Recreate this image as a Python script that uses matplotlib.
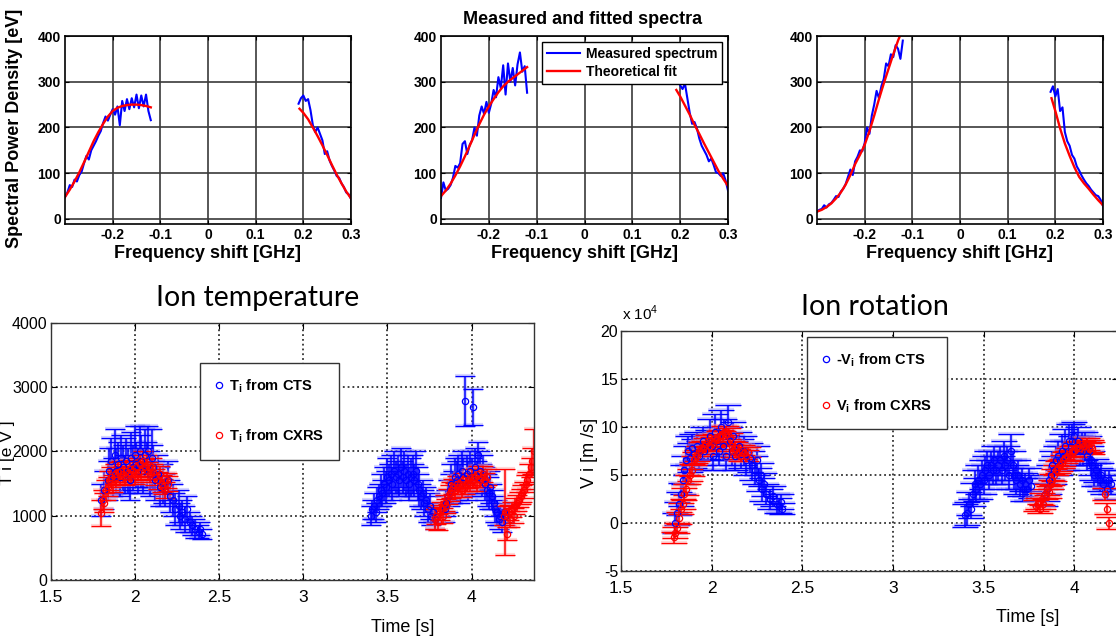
import matplotlib
matplotlib.use("Agg")
import matplotlib.pyplot as plt
from matplotlib.lines import Line2D

W, H = 1116, 641

BOLD = ["Liberation Sans", "DejaVu Sans"]
NARROW = ["Liberation Sans Narrow", "Liberation Sans", "DejaVu Sans"]
TITLE = ["Lato", "DejaVu Sans"]

# ---------------- spectra (top row) ----------------
# frequency bins of the measured spectrum [GHz]
meas_left_x = [-0.300, -0.295, -0.290, -0.285, -0.280, -0.275, -0.270, -0.265, -0.260, -0.255,
               -0.250, -0.245, -0.240, -0.235, -0.230, -0.225, -0.220, -0.215, -0.210, -0.205,
               -0.200, -0.195, -0.190, -0.185, -0.180, -0.175, -0.170, -0.165, -0.160, -0.155,
               -0.150, -0.145, -0.140, -0.135, -0.130, -0.125, -0.120]
meas_right_x = [0.190, 0.195, 0.200, 0.205, 0.210, 0.215, 0.220, 0.225, 0.230, 0.235, 0.240, 0.245,
                0.250, 0.255, 0.260, 0.265, 0.270, 0.275, 0.280, 0.285, 0.290, 0.295, 0.300]
fit_left_x = [-0.30, -0.29, -0.28, -0.27, -0.26, -0.25, -0.24, -0.23, -0.22, -0.21,
              -0.20, -0.19, -0.18, -0.17, -0.16, -0.15, -0.14, -0.13, -0.12]
fit_right_x = [0.192, 0.20, 0.21, 0.22, 0.23, 0.24, 0.25, 0.26, 0.27, 0.28, 0.29, 0.30]

meas1_left = [48, 58, 74, 70, 86, 82, 96, 104, 122, 138, 130, 150, 160, 170, 182, 192, 210, 224, 215, 228,
              240, 228, 246, 205, 258, 236, 262, 240, 264, 244, 272, 242, 270, 246, 272, 236, 216]
meas1_right = [252, 264, 270, 258, 262, 238, 205, 190, 200, 186, 172, 142, 148, 128, 116, 106, 94, 90,
               78, 70, 58, 54, 44]
fit1_left = [48, 64, 82, 102, 124, 147, 170, 190, 208, 224, 236, 243, 247, 249, 250, 250, 249, 247, 244]
fit1_right = [241, 232, 218, 200, 181, 161, 140, 118, 97, 78, 60, 45]

meas2_left = [46, 80, 62, 66, 74, 90, 116, 112, 122, 164, 170, 142, 162, 172, 200, 182, 226, 246, 230, 256,
              232, 252, 282, 266, 310, 286, 336, 272, 340, 300, 330, 292, 338, 364, 322, 334, 276]
meas2_right = [300, 306, 292, 284, 296, 264, 232, 208, 212, 198, 176, 160, 150, 140, 126, 132, 118, 102,
               100, 94, 100, 84, 62]
fit2_left = [50, 62, 77, 95, 115, 137, 160, 184, 207, 228, 246, 262, 277, 290, 300, 308, 316, 324, 332]
fit2_right = [282, 268, 248, 228, 206, 186, 165, 145, 125, 105, 88, 72]

meas3_left = [16, 20, 22, 30, 25, 32, 35, 42, 50, 48, 60, 66, 76, 92, 108, 96, 126, 136, 150, 148,
              166, 200, 186, 226, 250, 280, 264, 290, 306, 340, 334, 360, 354, 380, 372, 350, 390]
meas3_right = [278, 290, 268, 284, 236, 244, 190, 170, 160, 140, 132, 115, 106, 95, 86, 78, 72, 64,
               58, 52, 50, 42, 28]
fit3_left = [16, 20, 26, 34, 45, 58, 75, 96, 120, 140, 162, 192, 226, 262, 296, 328, 360, 390, 415]
fit3_right = [264, 236, 198, 165, 138, 113, 92, 78, 66, 53, 41, 30]

freq_ticks = [-0.2, -0.1, 0, 0.1, 0.2, 0.3]
freq_labels = ["-0.2", "-0.1", "0", "0.1", "0.2", "0.3"]
spd_ticks = [0, 100, 200, 300, 400]

# ---------------- ion temperature (bottom left) [eV] ----------------
ti_cts_t = [1.80, 1.82, 1.84, 1.85, 1.86, 1.87, 1.88, 1.89, 1.90, 1.91, 1.92, 1.93, 1.94, 1.95, 1.96,
            1.97, 1.98, 1.99, 2.00, 2.01, 2.02, 2.03, 2.04, 2.05, 2.06, 2.07, 2.08, 2.09, 2.10, 2.11,
            2.12, 2.14, 2.15, 2.17, 2.18, 2.20, 2.21, 2.23, 2.24, 2.26, 2.27, 2.28, 2.30, 2.31, 2.33,
            2.34, 2.36, 2.38, 2.39, 2.40,
            3.40, 3.41, 3.42, 3.43, 3.44, 3.45, 3.46, 3.47, 3.48, 3.49, 3.50, 3.51, 3.52, 3.53, 3.54,
            3.55, 3.56, 3.57, 3.58, 3.59, 3.60, 3.61, 3.62, 3.63, 3.64, 3.65, 3.66, 3.67, 3.68, 3.69,
            3.70, 3.71, 3.72, 3.73, 3.74, 3.75, 3.76, 3.77, 3.78,
            3.84, 3.85, 3.86, 3.87, 3.88, 3.89, 3.90, 3.91, 3.92, 3.93, 3.94, 3.95, 3.96, 3.97, 3.98,
            3.99, 4.00, 4.01, 4.02, 4.03, 4.04, 4.05, 4.06, 4.07, 4.08, 4.09, 4.10, 4.11, 4.12, 4.13,
            4.14, 4.15, 4.16, 4.17, 4.18, 4.19, 4.20]
ti_cts = [1250, 1400, 1550, 1700, 1850, 1600, 1950, 1700, 1800, 1600, 1900, 1750, 1650, 1850, 1700,
          1550, 1900, 1750, 1950, 1800, 1700, 2000, 1850, 1700, 1950, 1800, 2000, 1650, 1900, 1750,
          1550, 1650, 1450, 1500, 1400, 1550, 1300, 1250, 1100, 1150, 1000, 1050, 950, 1100, 900,
          850, 800, 750, 800, 720,
          1000, 1100, 1150, 1050, 1250, 1300, 1400, 1350, 1500, 1450, 1600, 1550, 1650, 1500, 1700,
          1600, 1650, 1550, 1750, 1600, 1700, 1550, 1650, 1500, 1600, 1650, 1550, 1700, 1500, 1400,
          1300, 1350, 1200, 1250, 1100, 1150, 1000, 1050, 950,
          1100, 1200, 1300, 1400, 1500, 1450, 1600, 1550, 1650, 1500, 1700, 1600, 2780, 1650, 1550,
          1700, 1600, 2690, 1750, 1600, 1950, 1700, 1550, 1650, 1500, 1400, 1350, 1450, 1300, 1200,
          1100, 1050, 950, 1000, 900, 1050, 1000]
ti_cts_err = [250, 300, 300, 350, 350, 300, 400, 350, 350, 300, 350, 350, 300, 350, 350,
              300, 400, 350, 450, 350, 350, 400, 400, 350, 400, 350, 400, 350, 450, 350,
              300, 300, 300, 300, 250, 300, 250, 250, 250, 250, 200, 200, 200, 200, 150,
              150, 150, 100, 100, 80,
              150, 150, 200, 150, 200, 200, 250, 200, 250, 250, 300, 250, 300, 250, 300,
              250, 300, 250, 300, 250, 300, 250, 300, 250, 300, 300, 250, 300, 250, 250,
              200, 200, 200, 200, 200, 200, 150, 150, 150,
              200, 200, 250, 250, 300, 250, 300, 300, 300, 300, 300, 300, 385, 300, 300,
              300, 300, 280, 300, 250, 200, 300, 250, 300, 250, 250, 250, 250, 200, 200,
              200, 200, 150, 150, 150, 150, 150]

ti_cxrs_t = [1.80, 1.81, 1.82, 1.83, 1.84, 1.85, 1.86, 1.87, 1.88, 1.89, 1.90, 1.91, 1.92, 1.93,
             1.94, 1.95, 1.96, 1.97, 1.98, 1.99, 2.00, 2.01, 2.02, 2.03, 2.04, 2.05, 2.06, 2.07,
             2.08, 2.09, 2.10, 2.11, 2.12, 2.14, 2.15, 2.16, 2.17, 2.18, 2.19, 2.20,
             3.78, 3.79, 3.80, 3.81, 3.82, 3.83, 3.84, 3.85, 3.86, 3.87, 3.88, 3.89, 3.90, 3.91,
             3.92, 3.93, 3.94, 3.95, 3.96, 3.97, 3.98, 3.99, 4.00, 4.01, 4.02, 4.03, 4.04, 4.05,
             4.06, 4.07, 4.08, 4.09, 4.19, 4.20, 4.21, 4.22, 4.23, 4.24, 4.25, 4.26, 4.27, 4.28,
             4.29, 4.30, 4.31, 4.32, 4.33, 4.34, 4.35, 4.36, 4.37]
ti_cxrs = [1040, 1250, 1200, 1400, 1450, 1550, 1600, 1500, 1650, 1600, 1680, 1620, 1700, 1650,
           1600, 1700, 1650, 1720, 1650, 1700, 1620, 1750, 1680, 1800, 1700, 1850, 1750, 1800,
           1700, 1650, 1750, 1680, 1600, 1550, 1650, 1500, 1450, 1400, 1550, 1500,
           950, 1000, 900, 1050, 1100, 1000, 1200, 1150, 1300, 1350, 1400, 1450, 1400, 1500,
           1450, 1500, 1400, 1550, 1450, 1500, 1550, 1500, 1600, 1550, 1600, 1500, 1650, 1550,
           1600, 1650, 1550, 1600, 1000, 1060, 720, 1050, 950, 1100, 1000, 1150, 1200, 1250,
           1300, 1350, 1400, 1500, 1550, 1650, 1750, 1850, 2000]
ti_cxrs_err = [200, 150, 150, 150, 150, 150, 150, 130, 150, 130, 150, 130, 150, 130,
               130, 150, 130, 150, 130, 150, 130, 150, 130, 150, 130, 150, 130, 150,
               130, 130, 150, 130, 130, 130, 130, 130, 120, 120, 120, 120,
               150, 130, 130, 120, 120, 120, 120, 110, 120, 120, 120, 120, 110, 120,
               110, 120, 110, 120, 110, 120, 120, 110, 120, 110, 120, 110, 120, 110,
               120, 120, 110, 120, 150, 670, 100, 120, 120, 120, 120, 120, 120, 120,
               120, 130, 130, 130, 130, 150, 150, 200, 350]

# ---------------- ion rotation (bottom right) [1e4 m/s] ----------------
vi_cts_t = [1.80, 1.81, 1.82, 1.83, 1.84, 1.85, 1.86, 1.87, 1.88, 1.89, 1.90, 1.92, 1.93, 1.95,
            1.96, 1.98, 1.99, 2.00, 2.01, 2.02, 2.03, 2.04, 2.05, 2.06, 2.07, 2.08, 2.09, 2.10,
            2.11, 2.12, 2.13, 2.15, 2.16, 2.18, 2.19, 2.21, 2.22, 2.24, 2.25, 2.26, 2.27, 2.28,
            2.29, 2.30, 2.32, 2.34, 2.36, 2.37, 2.38, 2.39,
            3.40, 3.41, 3.42, 3.43, 3.44, 3.45, 3.46, 3.47, 3.48, 3.49, 3.50, 3.51, 3.52, 3.53,
            3.54, 3.55, 3.56, 3.57, 3.58, 3.59, 3.60, 3.61, 3.62, 3.63, 3.64, 3.65, 3.66, 3.67,
            3.68, 3.69, 3.70, 3.71, 3.72, 3.73, 3.74, 3.75, 3.76,
            3.84, 3.85, 3.86, 3.87, 3.88, 3.89, 3.90, 3.91, 3.92, 3.93, 3.94, 3.95, 3.96, 3.97,
            3.98, 3.99, 4.00, 4.01, 4.02, 4.03, 4.04, 4.05, 4.06, 4.07, 4.08, 4.09, 4.10, 4.11,
            4.12, 4.13, 4.14, 4.15, 4.16, 4.17, 4.18, 4.19, 4.20]
vi_cts = [0.0, 1.0, 2.0, 3.0, 4.5, 5.5, 6.5, 7.5, 6.8, 7.8, 7.2, 8.0, 7.0, 8.5,
          7.5, 8.2, 9.0, 8.0, 7.0, 9.5, 8.5, 7.5, 10.0, 8.0, 9.0, 7.0, 10.5, 8.5,
          7.5, 9.0, 7.0, 8.0, 7.2, 7.5, 6.5, 6.8, 6.0, 5.5, 6.5, 4.5, 5.0, 3.5,
          4.0, 3.0, 2.5, 2.8, 2.0, 1.8, 2.2, 1.5,
          0.8, 1.0, 2.0, 1.5, 3.0, 4.0, 3.5, 4.5, 4.0, 5.0, 4.5, 5.5, 6.0, 5.0,
          6.0, 5.5, 6.5, 5.5, 6.0, 6.5, 5.5, 7.0, 6.0, 6.5, 5.0, 7.5, 6.0, 5.0,
          4.5, 5.0, 4.0, 4.5, 3.5, 4.0, 3.5, 4.5, 3.8,
          3.0, 3.5, 4.5, 5.0, 6.0, 5.5, 6.5, 7.0, 6.5, 7.5, 7.0, 8.0, 7.0, 8.5,
          7.5, 8.5, 9.0, 7.5, 8.5, 7.5, 8.0, 7.5, 8.0, 7.0, 7.5, 6.5, 6.0, 5.0,
          5.5, 5.0, 4.5, 5.0, 4.0, 4.5, 3.5, 4.5, 4.0]
vi_cts_err = [1.0, 1.2, 1.2, 1.2, 1.5, 1.5, 1.5, 1.5, 1.5, 1.5, 1.5, 1.5, 1.5, 1.5,
              1.5, 1.5, 1.8, 1.5, 1.5, 1.8, 1.5, 1.5, 1.8, 1.5, 1.8, 1.5, 1.8, 1.5,
              1.5, 1.5, 1.5, 1.5, 1.5, 1.5, 1.5, 1.5, 1.5, 1.5, 1.5, 1.2, 1.2, 1.2,
              1.2, 1.0, 1.0, 1.0, 1.0, 0.8, 0.8, 0.6,
              1.2, 1.2, 1.2, 1.0, 1.2, 1.5, 1.2, 1.5, 1.5, 1.5, 1.5, 1.5, 1.5, 1.5,
              1.5, 1.5, 1.5, 1.5, 1.5, 1.5, 1.5, 1.5, 1.5, 1.5, 1.5, 1.8, 1.5, 1.5,
              1.5, 1.5, 1.2, 1.2, 1.2, 1.2, 1.2, 1.2, 1.2,
              1.2, 1.2, 1.5, 1.5, 1.5, 1.5, 1.5, 1.5, 1.5, 1.8, 1.5, 1.8, 1.5, 1.8,
              1.5, 1.8, 1.5, 1.5, 1.5, 1.5, 1.5, 1.5, 1.5, 1.5, 1.5, 1.5, 1.5, 1.2,
              1.2, 1.2, 1.2, 1.2, 1.0, 1.0, 1.0, 1.0, 1.0]

vi_cxrs_t = [1.79, 1.80, 1.81, 1.82, 1.83, 1.84, 1.85, 1.86, 1.87, 1.88, 1.89, 1.90, 1.91, 1.92,
             1.93, 1.94, 1.95, 1.96, 1.97, 1.98, 1.99, 2.00, 2.01, 2.02, 2.03, 2.04, 2.05, 2.06,
             2.07, 2.08, 2.09, 2.10, 2.11, 2.12, 2.13, 2.14, 2.15, 2.16, 2.17, 2.18, 2.19, 2.20,
             3.79, 3.80, 3.81, 3.82, 3.83, 3.84, 3.85, 3.86, 3.87, 3.88, 3.89, 3.90, 3.91, 3.92,
             3.93, 3.94, 3.95, 3.96, 3.97, 3.98, 3.99, 4.00, 4.01, 4.02, 4.03, 4.04, 4.05, 4.06,
             4.07, 4.08, 4.09, 4.10, 4.17, 4.18, 4.19]
vi_cxrs = [-1.5, -1.0, -0.5, 0.5, 1.5, 2.0, 3.0, 3.5, 4.5, 5.0, 5.5, 6.5, 6.8, 7.0,
           7.5, 7.8, 7.8, 8.0, 8.2, 8.5, 8.0, 8.5, 8.3, 8.8, 8.6, 9.0, 9.2, 9.0,
           9.5, 9.6, 9.3, 8.8, 8.0, 7.5, 7.8, 7.2, 7.5, 7.0, 7.6, 7.3, 7.0, 7.4,
           1.8, 2.0, 1.5, 2.5, 2.0, 3.0, 3.5, 3.2, 4.0, 4.5, 5.0, 5.5, 5.8, 6.0,
           6.2, 6.5, 6.8, 7.0, 7.2, 7.0, 7.5, 7.5, 7.8, 8.0, 7.8, 8.2, 8.0, 8.0,
           8.2, 7.8, 8.0, 7.8, 3.0, 1.5, 0.0]
vi_cxrs_err = [0.6, 0.6, 0.5, 0.6, 0.6, 0.5, 0.6, 0.6, 0.5, 0.6, 0.6, 0.5, 0.6, 0.6,
               0.5, 0.6, 0.6, 0.5, 0.6, 0.6, 0.5, 0.6, 0.6, 0.5, 0.6, 0.6, 0.5, 0.6,
               0.6, 0.5, 0.6, 0.6, 0.5, 0.6, 0.6, 0.5, 0.6, 0.6, 0.5, 0.6, 0.6, 0.5,
               0.6, 0.6, 0.5, 0.6, 0.6, 0.5, 0.6, 0.6, 0.5, 0.6, 0.6, 0.5, 0.6, 0.6,
               0.5, 0.6, 0.6, 0.5, 0.6, 0.6, 0.5, 0.6, 0.6, 0.5, 0.6, 0.6, 0.5, 0.6,
               0.6, 0.5, 0.6, 0.6, 0.6, 0.6, 0.6]

time_ticks = [1.5, 2, 2.5, 3, 3.5, 4]
time_labels = ["1.5", "2", "2.5", "3", "3.5", "4"]


def px_axes(fig, left, top, right, bottom):
    """Add axes from pixel edges measured on the 1116x641 canvas."""
    return fig.add_axes([left / W, 1 - bottom / H, (right - left) / W, (bottom - top) / H])


def fig_xy(x, y):
    return x / W, 1 - y / H


fig = plt.figure(figsize=(W / 100, H / 100), dpi=100)

# ---------- top row: measured and fitted spectra ----------
spectra = [
    (65, 351, meas1_left, meas1_right, fit1_left, fit1_right),
    (441, 728, meas2_left, meas2_right, fit2_left, fit2_right),
    (817, 1103, meas3_left, meas3_right, fit3_left, fit3_right),
]
spec_axes = []
for left, right, ml, mr, fl, fr in spectra:
    ax = px_axes(fig, left, 36, right, 224)
    ax.plot(meas_left_x, ml, color="#0000ff", lw=1.5)
    ax.plot(meas_right_x, mr, color="#0000ff", lw=1.5)
    ax.plot(fit_left_x, fl, color="#ff0000", lw=1.7)
    ax.plot(fit_right_x, fr, color="#ff0000", lw=1.7)
    ax.set_xlim(-0.3, 0.3)
    ax.set_ylim(-11, 400)
    ax.set_xticks(freq_ticks, freq_labels, fontfamily=BOLD, fontweight="bold", fontsize=10)
    ax.set_yticks(spd_ticks, [str(v) for v in spd_ticks], fontfamily=BOLD, fontweight="bold", fontsize=10)
    ax.tick_params(direction="in", length=3, pad=3, top=True, right=True)
    ax.grid(True, color="#3a3a3a", lw=1.2)
    ax.set_axisbelow(True)
    for sp in ax.spines.values():
        sp.set_linewidth(1.2)
    ax.set_xlabel("Frequency shift [GHz]", fontfamily=BOLD, fontweight="bold", fontsize=13, labelpad=2)
    spec_axes.append(ax)

fig.text(*fig_xy(583, 19), "Measured and fitted spectra", ha="center", va="center",
         fontfamily=BOLD, fontweight="bold", fontsize=13)
fig.text(*fig_xy(15, 128), "Spectral Power Density [eV]", rotation=90, ha="center", va="center",
         fontfamily=BOLD, fontweight="bold", fontsize=13)

leg_handles = [Line2D([], [], color="#0000ff", lw=1.5), Line2D([], [], color="#ff0000", lw=1.7)]
leg = spec_axes[1].legend(leg_handles, ["Measured spectrum", "Theoretical fit"], loc="upper right",
                          bbox_to_anchor=fig_xy(722, 42), bbox_transform=fig.transFigure,
                          prop={"family": BOLD, "weight": "bold", "size": 10},
                          fancybox=False, framealpha=1, edgecolor="black", borderaxespad=0,
                          borderpad=0.35, labelspacing=0.3, handlelength=2.4, handletextpad=0.4)
leg.get_frame().set_linewidth(1.0)


# ---------- bottom row: ion temperature and rotation ----------
def draw_errorbars(ax, t, val, err, color, halo, capsize):
    # soft wide pass first, then the crisp error bars with open circles
    ax.errorbar(t, val, yerr=err, fmt="none", ecolor=halo, elinewidth=3.0,
                capsize=capsize, capthick=3.0, alpha=0.35)
    ax.errorbar(t, val, yerr=err, fmt="o", color=color, mfc="none", ms=4.5, mew=0.9,
                elinewidth=1.1, capsize=capsize, capthick=1.1)


def style_time_axes(ax, yticks):
    ax.set_xticks(time_ticks, time_labels, fontfamily=NARROW, fontsize=12.5)
    ax.set_yticks(yticks, [str(v) for v in yticks], fontfamily=NARROW, fontsize=11.5)
    ax.tick_params(axis="x", direction="in", length=4, pad=7, top=True)
    ax.tick_params(axis="y", direction="in", length=4, pad=2, right=True)
    ax.grid(True, ls=":", color="#333333", lw=1.3)
    ax.set_axisbelow(True)
    for sp in ax.spines.values():
        sp.set_linewidth(1.0)
        sp.set_color("#333333")


ax_t = px_axes(fig, 50.5, 322.7, 534, 580)
draw_errorbars(ax_t, ti_cts_t, ti_cts, ti_cts_err, "#0000ff", "#8c8cff", 7.5)
draw_errorbars(ax_t, ti_cxrs_t, ti_cxrs, ti_cxrs_err, "#ff0000", "#ff9090", 7.5)
ax_t.set_xlim(1.5, 4.37)
ax_t.set_ylim(0, 4000)
style_time_axes(ax_t, [0, 1000, 2000, 3000, 4000])

ax_v = px_axes(fig, 621, 330.7, 1118, 571)
draw_errorbars(ax_v, vi_cts_t, vi_cts, vi_cts_err, "#0000ff", "#8c8cff", 9.5)
draw_errorbars(ax_v, vi_cxrs_t, vi_cxrs, vi_cxrs_err, "#ff0000", "#ff9090", 9.5)
ax_v.set_xlim(1.5, 1.5 + (1118 - 621) / 181.3)
ax_v.set_ylim(-5, 20)
style_time_axes(ax_v, [-5, 0, 5, 10, 15, 20])

fig.text(*fig_xy(258, 298), "Ion temperature", ha="center", va="center", fontfamily=TITLE, fontsize=20.5)
fig.text(*fig_xy(875, 307), "Ion rotation", ha="center", va="center", fontfamily=TITLE, fontsize=20.5)
fig.text(*fig_xy(403, 627), "Time [s]", ha="center", va="center", fontfamily=NARROW, fontsize=13)
fig.text(*fig_xy(1028, 618), "Time [s]", ha="center", va="center", fontfamily=NARROW, fontsize=13)
fig.text(*fig_xy(0, 453), "T i [e V ]", rotation=90, ha="left", va="center", fontfamily=NARROW,
         fontsize=12.5)
fig.text(*fig_xy(590, 453), "V i [m /s]", rotation=90, ha="center", va="center", fontfamily=NARROW,
         fontsize=13)
fig.text(*fig_xy(622, 313), r"x 10$^{\mathregular{4}}$", ha="left", va="center", fontfamily=NARROW,
         fontsize=11)

marker_handles = [Line2D([], [], ls="none", marker="o", mfc="none", color="#0000ff", ms=4.5, mew=0.9),
                  Line2D([], [], ls="none", marker="o", mfc="none", color="#ff0000", ms=4.5, mew=0.9)]
legend_kw = dict(loc="upper left", bbox_transform=fig.transFigure, fancybox=False, framealpha=1,
                 edgecolor="#333333", borderaxespad=0, borderpad=1.0,
                 handlelength=0.6, handletextpad=0.4,
                 prop={"family": NARROW, "weight": "bold", "size": 10.5})
ax_t.legend(marker_handles, [r"T$_\mathregular{i}$ from CTS", r"T$_\mathregular{i}$ from CXRS"],
            bbox_to_anchor=fig_xy(200, 363), labelspacing=2.2, **legend_kw)
ax_v.legend(marker_handles, [r"-V$_\mathregular{i}$ from CTS", r"V$_\mathregular{i}$ from CXRS"],
            bbox_to_anchor=fig_xy(807, 337), labelspacing=1.9, **legend_kw)

fig.savefig("out.png", dpi=100)
